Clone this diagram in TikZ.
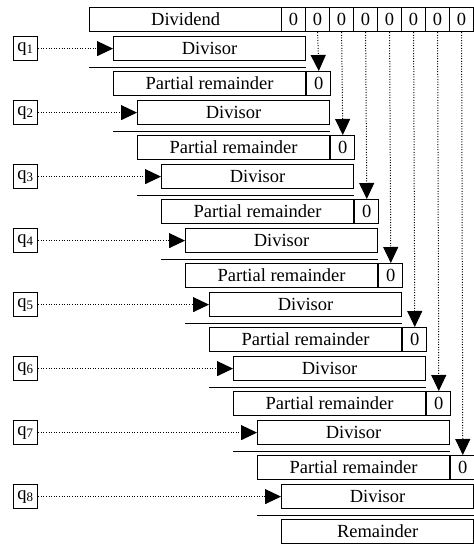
\documentclass[tikz,border=0pt]{standalone}
\usepackage{fontspec}
\setmainfont{Liberation Serif}
\usetikzlibrary{arrows.meta,calc}
\begin{document}
\begin{tikzpicture}[x=1pt,y=-1pt,
 box/.style={draw,line width=1.2pt,minimum height=24pt,inner sep=0pt,anchor=north west,font=\fontsize{18.5}{20}\selectfont},
 wide/.style={box,minimum width=192pt},
 cell/.style={box,minimum width=24pt},
 dots/.style={line width=1pt,dash pattern=on 1pt off 1.6pt,-{Triangle[length=16pt,width=15pt]}},
 rule/.style={line width=1.2pt}]
\useasboundingbox (0,0) rectangle (474,544);
\node[wide] (dvd) at (89,7) {Dividend};
\foreach \j in {1,...,8} \node[cell] (dz\j) at ({281+24*(\j-1)},7) {0};
\foreach \k in {1,...,8} {
  \pgfmathsetmacro\yy{36+64*(\k-1)}
  \pgfmathsetmacro\xx{113+24*(\k-1)}
  \node[cell] (q\k) at (13,\yy) {q\textsubscript{\k}};
  \node[wide] (ds\k) at (\xx,\yy) {Divisor};
  \draw[dots] (q\k) -- (ds\k);
  \draw[rule] ($(ds\k.south west)+(-24,6)$) -- ($(ds\k.south east)+(0,6)$);
}
\foreach \k in {1,...,7} {
  \pgfmathsetmacro\yy{71+64*(\k-1)}
  \pgfmathsetmacro\xx{113+24*(\k-1)}
  \node[wide] (pr\k) at (\xx,\yy) {Partial remainder};
  \node[cell] (pz\k) at (pr\k.north east) {0};
}
\node[wide] (rem) at (281,519) {Remainder};
\foreach \j [evaluate=\j as \i using int(\j-1)] in {2,...,8}
  \draw[dots] (dz\j.south) -- (pz\i.north);
\end{tikzpicture}
\end{document}
